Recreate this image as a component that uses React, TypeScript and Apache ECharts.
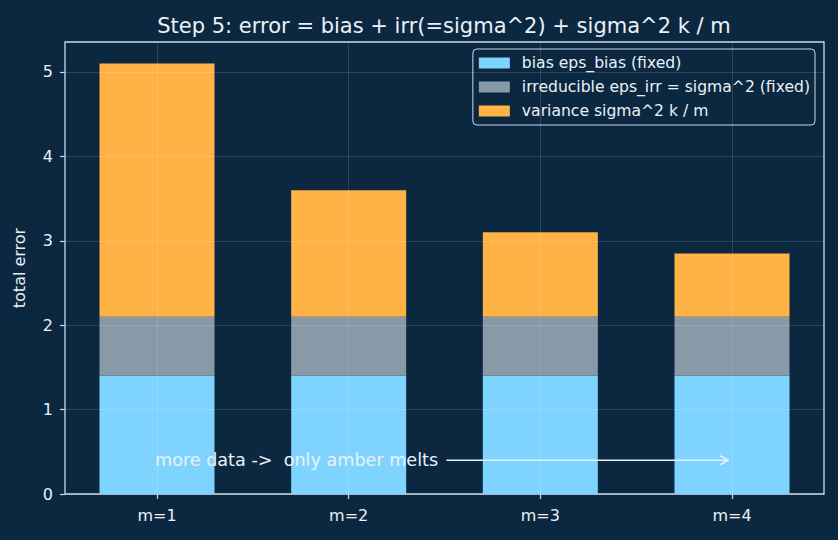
import React, { useEffect, useRef } from "react";
import * as echarts from "echarts";

const categories = ["m=1", "m=2", "m=3", "m=4"];
const biasValues = [1.4, 1.4, 1.4, 1.4];
const irreducibleValues = [0.7, 0.7, 0.7, 0.7];
const varianceValues = [3.0, 1.5, 1.0, 0.75];
const yTickValues = [0, 1, 2, 3, 4, 5];
const seriesNames = [
  "bias eps_bias (fixed)",
  "irreducible eps_irr = sigma^2 (fixed)",
  "variance sigma^2 k / m",
];
const annotationText = "more data ->  only amber melts";
const annotationY = 0.4;
const arrowFromX = 1.51;
const arrowToX = 2.98;

const X_MIN = -0.48;
const X_MAX = 3.48;
const Y_MAX = 5.355;

const BG = "#0c2841";
const SPINE = "#c6dae8";
const TEXT = "#eaf1f7";
const FONT = "DejaVu Sans";
const COLORS = ["#7fd3ff", "#8899a8", "#ffb347"];

export default function App() {
  const ref = useRef<HTMLDivElement>(null);
  useEffect(() => {
    document.body.style.margin = "0";
    const chart = echarts.init(ref.current!, null, { renderer: "svg" });
    const xs = categories.map((_, i) => i);
    const W = 838;
    const frameLeft = 65;
    const frameRight = 14;
    const frameW = W - frameLeft - frameRight;
    const pxPerUnit = frameW / (X_MAX - X_MIN);
    // category grid aligned so band centres fall on the value-axis positions 0..n-1
    const catLeft = frameLeft + (-0.5 - X_MIN) * pxPerUnit;
    const catRight = W - (frameLeft + (categories.length - 0.5 - X_MIN) * pxPerUnit);
    const gridLine = { show: true, lineStyle: { color: "rgba(255,255,255,0.16)", width: 0.8 } };
    chart.setOption({
      animation: false,
      backgroundColor: BG,
      textStyle: { fontFamily: FONT },
      title: {
        text: "Step 5: error = bias + irr(=sigma^2) + sigma^2 k / m",
        left: 439,
        textAlign: "center",
        top: 10,
        textStyle: { color: TEXT, fontSize: 21, fontWeight: "normal", fontFamily: FONT },
      },
      grid: [
        { left: catLeft, right: catRight, top: 42, bottom: 46, show: false },
        { left: frameLeft, right: frameRight, top: 42, bottom: 46, show: true, borderColor: SPINE, borderWidth: 1.3, backgroundColor: "transparent" },
      ],
      legend: {
        orient: "vertical",
        right: 23,
        top: 49,
        icon: "rect",
        itemWidth: 31,
        itemHeight: 11,
        itemGap: 8,
        padding: [6, 5, 6, 6],
        backgroundColor: BG,
        borderColor: SPINE,
        borderWidth: 1,
        borderRadius: 4,
        data: seriesNames,
        textStyle: { color: TEXT, fontSize: 15.6, fontFamily: FONT, lineHeight: 16, padding: [0, 0, 0, 7] },
      },
      xAxis: [
        { type: "category", gridIndex: 0, data: categories, show: false },
        {
          type: "value",
          gridIndex: 1,
          min: X_MIN,
          max: X_MAX,
          z: 10,
          axisLine: { show: false, onZero: false },
          axisTick: { show: true, length: 5, lineStyle: { color: SPINE, width: 1.2 }, customValues: xs },
          axisLabel: {
            customValues: xs,
            color: TEXT,
            fontSize: 16,
            fontFamily: FONT,
            margin: 13,
            formatter: (v: number) => categories[Math.round(v)] ?? "",
          },
          splitLine: gridLine,
        },
      ],
      yAxis: [
        { type: "value", gridIndex: 0, min: 0, max: Y_MAX, show: false, splitLine: { show: false } },
        {
          type: "value",
          gridIndex: 1,
          min: 0,
          max: Y_MAX,
          z: 10,
          name: "total error",
          nameLocation: "middle",
          nameGap: 38,
          nameTextStyle: { color: TEXT, fontSize: 16, fontFamily: FONT },
          axisLine: { show: false, onZero: false },
          axisTick: { show: true, length: 5, lineStyle: { color: SPINE, width: 1.2 }, customValues: yTickValues },
          axisLabel: { customValues: yTickValues, color: TEXT, fontSize: 16, fontFamily: FONT, margin: 12 },
          splitLine: gridLine,
        },
      ],
      series: [
        ...[biasValues, irreducibleValues, varianceValues].map((vals, k) => ({
          name: seriesNames[k],
          type: "bar",
          xAxisIndex: 0,
          yAxisIndex: 0,
          stack: "total",
          barWidth: "60%",
          data: vals,
          itemStyle: { color: COLORS[k] },
          z: 2,
        })),
        {
          type: "custom",
          xAxisIndex: 1,
          yAxisIndex: 1,
          z: 20,
          encode: { x: 0, y: 1 },
          data: [[xs[0], annotationY, arrowFromX, arrowToX]],
          renderItem: (params: any, api: any) => {
            const p0 = api.coord([api.value(0), api.value(1)]);
            const pa = api.coord([api.value(2), api.value(1)]);
            const pb = api.coord([api.value(3), api.value(1)]);
            return {
              type: "group",
              children: [
                {
                  type: "text",
                  style: {
                    text: annotationText,
                    x: p0[0] - 2,
                    y: p0[1],
                    fill: TEXT,
                    font: `17.6px '${FONT}'`,
                    align: "left",
                    verticalAlign: "middle",
                  },
                },
                {
                  type: "line",
                  shape: { x1: pa[0], y1: pa[1], x2: pb[0], y2: pb[1] },
                  style: { stroke: TEXT, lineWidth: 1.5 },
                },
                {
                  type: "polyline",
                  shape: { points: [[pb[0] - 8, pb[1] - 4.5], [pb[0], pb[1]], [pb[0] - 8, pb[1] + 4.5]] },
                  style: { stroke: TEXT, lineWidth: 1.5, fill: "none" },
                },
              ],
            };
          },
        },
      ],
    });
    return () => chart.dispose();
  }, []);
  return <div ref={ref} style={{ width: 838, height: 540 }} />;
}
